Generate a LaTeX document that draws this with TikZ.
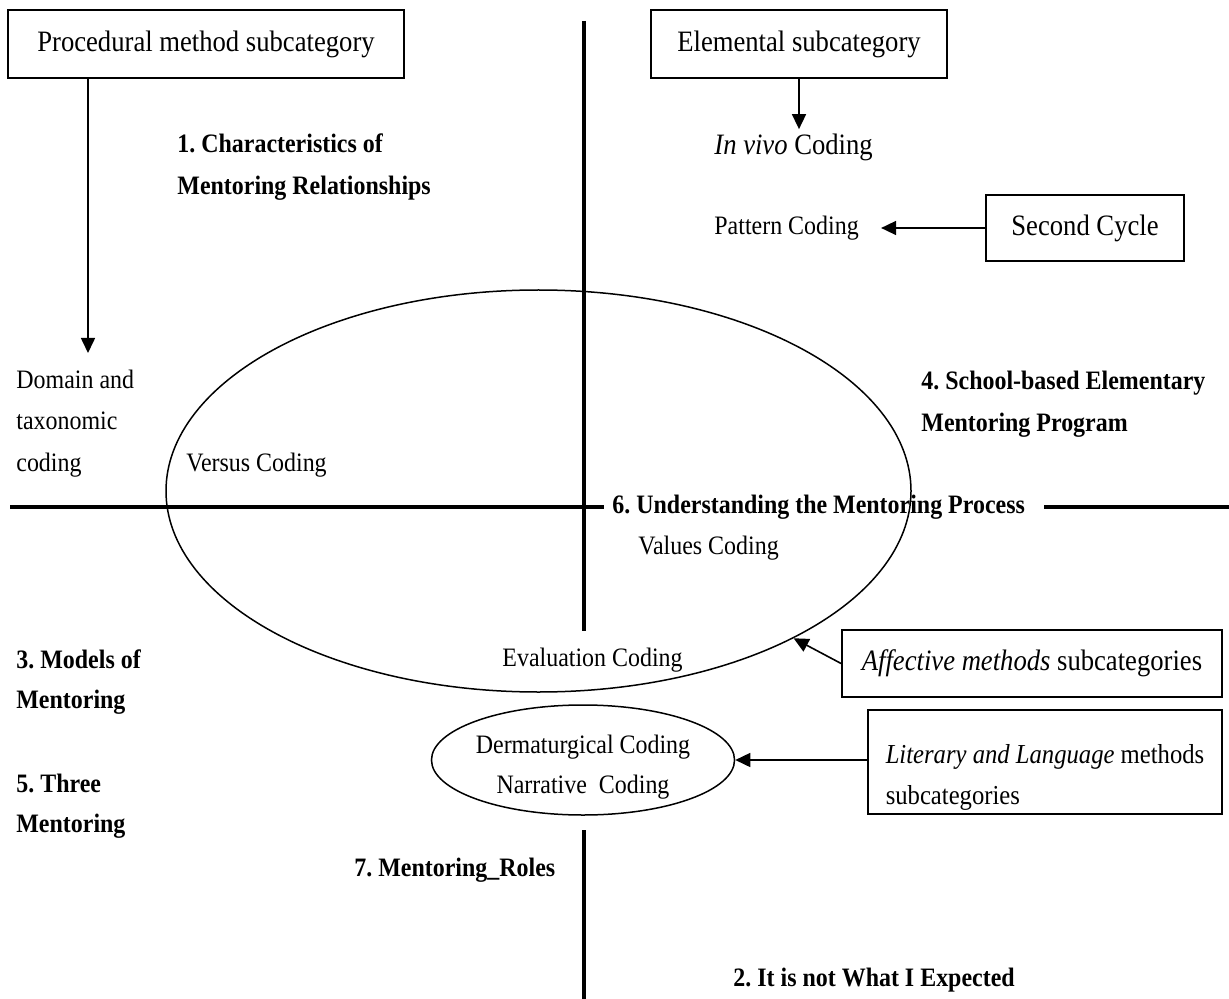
\documentclass[tikz,border=0pt]{standalone}
\usepackage{fontspec}
\setmainfont{Liberation Serif}[FakeStretch=0.9]
\usetikzlibrary{shapes.geometric,arrows.meta}
\frenchspacing
\begin{document}
\begin{tikzpicture}[x=0.5pt,y=-0.5pt,
  boxnode/.style={draw,line width=0.9pt,inner sep=0pt,align=center,font=\fontsize{14.8}{17}\selectfont},
  lbl/.style={anchor=west,inner sep=0pt,align=left,font=\fontsize{13.3}{20.75}\selectfont},
  blbl/.style={lbl,font=\fontsize{13.3}{20.75}\selectfont\bfseries},
  axis/.style={line width=2pt},
  arr/.style={line width=0.8pt,-{Triangle[length=7.5pt,width=7pt]}},
  ell/.style={draw,ellipse,line width=0.75pt,inner sep=0pt}]
\useasboundingbox (0,0) rectangle (1229,999);
% boxes
\node[boxnode,minimum width=198pt,minimum height=34pt] (proc) at (206,44) {Procedural method subcategory};
\node[boxnode,minimum width=148pt,minimum height=34pt] (elem) at (799,44) {Elemental subcategory};
\node[boxnode,minimum width=99pt,minimum height=33pt] (second) at (1085,228) {Second Cycle};
\node[boxnode,minimum width=190pt,minimum height=33.5pt] (affect) at (1032,663.5) {\textit{Affective methods} subcategories};
\node[draw,line width=0.9pt,anchor=north,inner sep=0pt,minimum width=177pt,align=left,font=\fontsize{13.7}{20.5}\selectfont] (literary) at (1045,709) {\rule{0pt}{27pt}\textit{Literary and Language} methods\\subcategories\rule[-4.5pt]{0pt}{4.5pt}};
% ellipses
\node[ell,minimum width=372.5pt,minimum height=201pt] (bigell) at (538.5,491) {};
\node[ell,minimum width=140pt,minimum height=55pt,align=center,font=\fontsize{13.3}{20}\selectfont] (smell) at (583,760) {\rule{0pt}{16pt}Dermaturgical Coding\\Narrative\ \ Coding};
% labels
\node[blbl] (c1) at (177,167) {1. Characteristics of\\Mentoring Relationships};
\node[lbl,font=\fontsize{14.8}{17}\selectfont] (invivo) at (714,147) {\textit{In vivo} Coding};
\node[lbl] (pattern) at (714,228) {Pattern Coding};
\node[lbl] (domain) at (16,423.5) {Domain and\\taxonomic\\coding};
\node[lbl] (versus) at (186,465) {Versus Coding};
\node[blbl] (school) at (921,404) {4. School-based Elementary\\Mentoring Program};
\node[blbl] (u6) at (612,507) {6. Understanding the Mentoring Process};
\node[lbl] (values) at (638,548) {Values Coding};
\node[lbl] (eval) at (502,660) {Evaluation Coding};
\node[blbl,font=\fontsize{13.3}{20}\selectfont\bfseries] (models) at (16,682) {3. Models of\\Mentoring};
\node[blbl,font=\fontsize{13.3}{20}\selectfont\bfseries] (three) at (16,806) {5. Three\\Mentoring};
\node[blbl] (roles) at (354,870) {7. Mentoring\_Roles};
\node[blbl] (expected) at (733,980) {2. It is not What I Expected};
% axes
\coordinate (vtop) at (584,21);
\coordinate (vmid) at (584,631);
\coordinate (vlow) at (584,830);
\coordinate (vbot) at (584,999);
\coordinate (hleft) at (10,507);
\coordinate (hright) at (1229,507);
\draw[axis] (vtop) -- (vmid);
\draw[axis] (vlow) -- (vbot);
\draw[axis] (hleft) -- ([xshift=-4pt]u6.west);
\draw[axis] ([xshift=9.5pt]u6.east) -- (hright);
% arrows
\coordinate (domtop) at (88,353);
\draw[arr] (proc.south west -| domtop) -- (domtop);
\draw[arr] (elem.south) -- ([yshift=2pt]elem.south |- invivo.north);
\draw[arr] (second.west) -- ([xshift=11pt]pattern.east);
\draw[arr] (affect.west) -- (bigell.-30.5);
\draw[arr] (literary.west |- smell.east) -- (smell.east);
\end{tikzpicture}
\end{document}
